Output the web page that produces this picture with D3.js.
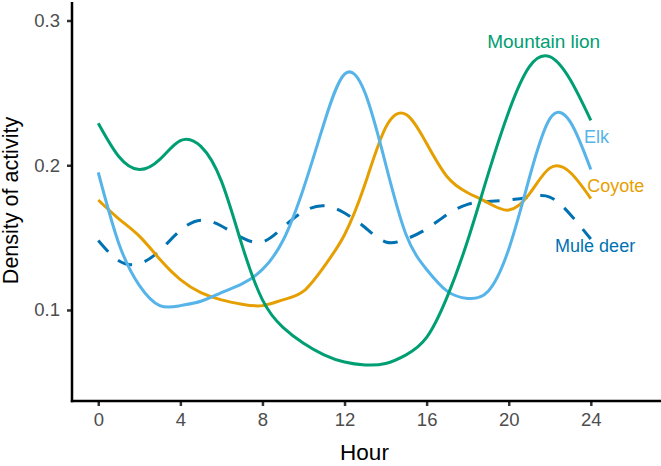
<!DOCTYPE html>
<html>
<head>
<meta charset="utf-8">
<script src="https://cdn.jsdelivr.net/npm/d3@7"></script>
<style>
  html, body { margin: 0; padding: 0; background: #fff; }
  svg { display: block; font-family: "Liberation Sans", Arial, sans-serif; }
</style>
</head>
<body>
<svg id="chart" width="661" height="466"></svg>
<script>
// ---- data ----
const hours = [0,1,2,3,4,5,6,7,8,9,10,11,12,13,14,15,16,17,18,19,20,21,22,23,24];
const mountainLion = [0.229,0.206,0.197,0.204,0.217,0.213,0.189,0.145,0.107,0.088,0.077,0.069,0.064,0.062,0.063,0.069,0.081,0.109,0.148,0.194,0.237,0.268,0.275,0.259,0.231];
const elk          = [0.195,0.146,0.117,0.103,0.103,0.106,0.112,0.118,0.128,0.148,0.184,0.229,0.263,0.250,0.201,0.152,0.128,0.113,0.108,0.113,0.142,0.191,0.232,0.230,0.197];
const coyote       = [0.176,0.163,0.151,0.135,0.121,0.112,0.107,0.104,0.103,0.107,0.113,0.130,0.152,0.187,0.226,0.235,0.215,0.192,0.181,0.174,0.169,0.180,0.198,0.195,0.177];
const muleDeer     = [0.148,0.134,0.132,0.141,0.155,0.162,0.158,0.150,0.147,0.157,0.168,0.172,0.167,0.157,0.147,0.149,0.156,0.166,0.173,0.175,0.176,0.178,0.178,0.166,0.149];
const seriesNames  = ["Mountain lion","Elk","Coyote","Mule deer"];
const xTicks = [0,4,8,12,16,20,24];
const yTicks = [0.1,0.2,0.3];

// ---- styles / layout ----
const colors = {"Mountain lion":"#009E73","Elk":"#56B4E9","Coyote":"#E69F00","Mule deer":"#0072B2"};
const dashes = {"Mule deer":"15,13"};
const labelPos = {
  "Mountain lion": [18.95, 0.2807],
  "Elk":           [23.67, 0.2151],
  "Coyote":        [23.83, 0.1812],
  "Mule deer":     [22.26, 0.1400]
};

const svg = d3.select("#chart");
const mLeft = 72, mRight = 661, mTop = 2, mBottom = 401;

const x = d3.scaleLinear().domain([-1.28, 27.42]).range([mLeft, mRight]);
const y = d3.scaleLinear().domain([0.0371, 0.3128]).range([mBottom, mTop]);

const series = [
  {name: seriesNames[0], values: mountainLion},
  {name: seriesNames[1], values: elk},
  {name: seriesNames[2], values: coyote},
  {name: seriesNames[3], values: muleDeer}
];

const line = d3.line()
  .x((d, i) => x(hours[i]))
  .y(d => y(d))
  .curve(d3.curveNatural);

const plot = svg.append("g");
const order = ["Mule deer","Coyote","Elk","Mountain lion"];
order.forEach(n => {
  const s = series.find(t => t.name === n);
  plot.append("path")
    .attr("d", line(s.values))
    .attr("fill", "none")
    .attr("stroke", colors[n])
    .attr("stroke-width", 3)
    .attr("stroke-dasharray", dashes[n] || null);
});

seriesNames.forEach(n => {
  svg.append("text")
    .attr("x", x(labelPos[n][0]))
    .attr("y", y(labelPos[n][1]))
    .attr("fill", colors[n])
    .attr("font-size", n === "Mountain lion" ? 19 : 18)
    .text(n);
});

const xAxis = d3.axisBottom(x).tickValues(xTicks).tickSize(5).tickPadding(7).tickFormat(d3.format("d"));
const yAxis = d3.axisLeft(y).tickValues(yTicks).tickSize(5).tickPadding(7).tickFormat(d3.format(".1f"));

const gx = svg.append("g").attr("transform", `translate(0,${mBottom})`).call(xAxis);
const gy = svg.append("g").attr("transform", `translate(${mLeft},0)`).call(yAxis);

[gx, gy].forEach(g => {
  g.select(".domain").remove();
  g.selectAll(".tick line").attr("stroke", "#333").attr("stroke-width", 2.5);
  g.selectAll(".tick text").attr("fill", "#4d4d4d").attr("font-size", 18.5)
    .attr("font-family", "'Liberation Sans', Arial, sans-serif");
});

svg.append("line").attr("x1", mLeft).attr("x2", mLeft).attr("y1", mTop).attr("y2", mBottom + 1.2)
  .attr("stroke", "#000").attr("stroke-width", 2.5);
svg.append("line").attr("x1", mLeft - 1.2).attr("x2", mRight).attr("y1", mBottom).attr("y2", mBottom)
  .attr("stroke", "#000").attr("stroke-width", 2.5);

svg.append("text").attr("x", 364.5).attr("y", 460)
  .attr("text-anchor", "middle").attr("font-size", 22.5).attr("fill", "#000").text("Hour");
svg.append("text").attr("transform", `translate(17.5,200.5) rotate(-90)`)
  .attr("text-anchor", "middle").attr("font-size", 21.5).attr("fill", "#000").text("Density of activity");
</script>
</body>
</html>
